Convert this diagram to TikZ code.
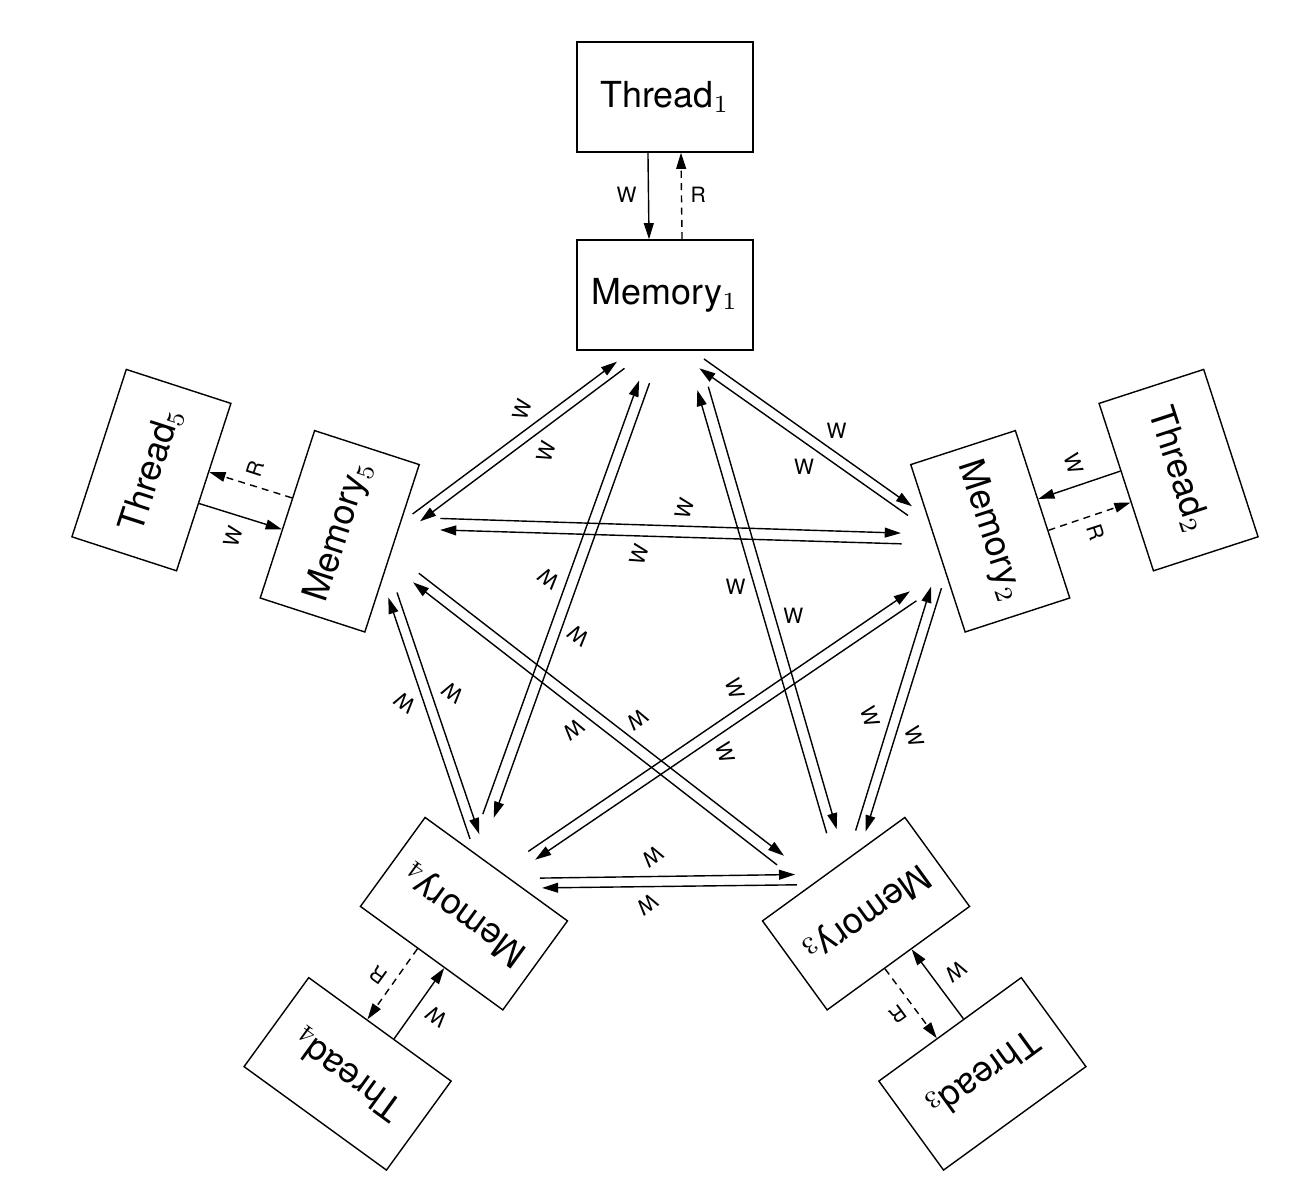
\documentclass[tikz,border=0pt]{standalone}
\usepackage[no-math]{fontspec}
\setmainfont{TeX Gyre Heros}
\usepackage{tikz}
\usetikzlibrary{arrows.meta}

\tikzset{
    unitbox/.style={draw, minimum width=1.76cm, minimum height=1.10cm,
        inner sep=0pt, font=\fontsize{10.2}{12}\selectfont},
    oplabel/.style={inner sep=0pt, font=\fontsize{6}{7}\selectfont},
    wr/.style={->},
    rd/.style={->, dash pattern=on 2pt off 1.5pt},
}

\begin{document}
\begin{tikzpicture}[>={Triangle[length=4.6pt, width=2.8pt]}, line width=0.4pt]

    \useasboundingbox (-6.65,-5.65) rectangle (6.45,6.37);

    % =================================================================
    % 1. FIVE UNITS (THREAD + MEMORY), TURNED IN STEPS OF 72 DEGREES
    % =================================================================
    \foreach \k in {1,...,5} {
        \begin{scope}[rotate=-72*(\k-1), transform shape]
            \node[unitbox] (t\k) at (0,5.40) {Thread$_\k$};
            \node[unitbox] (m\k) at (0,3.42) {Memory$_\k$};

            % write from the thread, read back from the memory
            \draw[wr] (t\k.253.1) -- (m\k.106.9);
            \draw[rd] (m\k.73.1) -- (t\k.286.9);
            \node[oplabel] (tw\k) at (-0.383,4.42) {W};
            \node[oplabel] (tr\k) at (0.333,4.42) {R};

            % writes to the next memory and back
            \coordinate (na\k) at (0.39,2.78);
            \coordinate (nb\k) at (2.47,1.307);
            \coordinate (nc\k) at (2.43,1.215);
            \coordinate (nd\k) at (0.343,2.687);
            \draw[wr] (na\k) -- (nb\k);
            \draw[wr] (nc\k) -- (nd\k);
            \node[oplabel] (nw\k) at (1.717,2.063) {W};
            \node[oplabel] (nv\k) at (1.39,1.703) {W};

            % writes to the memory two steps on and back
            \coordinate (da\k) at (0.433,2.503);
            \coordinate (db\k) at (1.717,-1.923);
            \coordinate (dc\k) at (1.617,-1.963);
            \coordinate (dd\k) at (0.323,2.47);
            \draw[wr] (da\k) -- (db\k);
            \draw[wr] (dc\k) -- (dd\k);
            \node[oplabel] (dw\k) at (1.283,0.213) {W};
            \node[oplabel] (dv\k) at (0.707,0.503) {W};
        \end{scope}
    }

\end{tikzpicture}
\end{document}
